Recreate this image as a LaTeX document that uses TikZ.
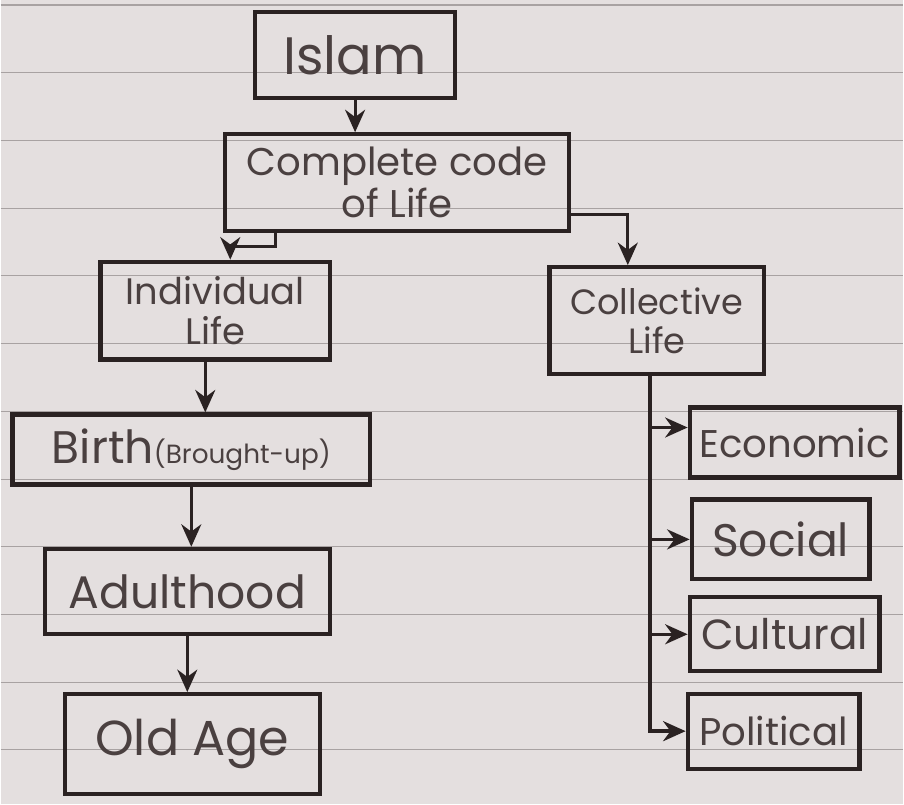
\documentclass[tikz,border=0pt]{standalone}
\usepackage{fontspec}
\setmainfont{Poppins}
\usetikzlibrary{arrows.meta}
\definecolor{paper}{HTML}{E4DFDF}
\definecolor{rule}{HTML}{A8A2A2}
\definecolor{ink}{HTML}{2A2222}
\definecolor{pencil}{HTML}{4A4040}
\tikzset{
	topicbox/.style={
		draw=ink,
		line width=2.4pt,
		inner sep=0pt,
		align=center,
		text=pencil
	},
	link/.style={
		draw=ink,
		line width=1.8pt,
		-{Stealth[length=4.5mm,width=4mm]}
	}
}

\begin{document}
\begin{tikzpicture}
			% paper with ruled lines
			\fill[paper] (0,0) rectangle (18.08,-16.1);
			\foreach \k in {0,...,11}
				\draw[rule, line width=0.6pt] (0,-0.1-1.356*\k) -- (18.08,-0.1-1.356*\k);
			\useasboundingbox (0,0) rectangle (18.08,-16.1);
			
			\node[topicbox, minimum width=4.0cm, minimum height=1.72cm, font=\fontsize{30}{34}\selectfont] (islam) at (7.1,-1.1) {Islam};
			\node[topicbox, minimum width=6.9cm, minimum height=1.94cm, font=\fontsize{22}{24}\selectfont] (code) at (7.94,-3.66) {Complete code\\of Life};
			\node[topicbox, minimum width=4.6cm, minimum height=1.96cm, font=\fontsize{21}{23}\selectfont] (indiv) at (4.3,-6.22) {Individual\\Life};
			\node[topicbox, minimum width=4.3cm, minimum height=2.14cm, font=\fontsize{20}{22}\selectfont] (coll) at (13.14,-6.42) {Collective\\Life};
			\node[topicbox, minimum width=7.16cm, minimum height=1.4cm, font=\fontsize{26}{28}\selectfont] (birth) at (3.82,-9.0) {Birth{\fontsize{15}{17}\selectfont(Brought-up)}};
			\node[topicbox, minimum width=5.7cm, minimum height=1.7cm, font=\fontsize{26}{28}\selectfont] (adult) at (3.74,-11.84) {Adulthood};
			\node[topicbox, minimum width=5.1cm, minimum height=2.0cm, font=\fontsize{28}{30}\selectfont] (old) at (3.84,-14.9) {Old Age};
			\node[topicbox, minimum width=4.2cm, minimum height=1.4cm, font=\fontsize{22}{24}\selectfont] (eco) at (15.9,-8.86) {Economic};
			\node[topicbox, minimum width=3.56cm, minimum height=1.6cm, font=\fontsize{26}{28}\selectfont] (soc) at (15.62,-10.8) {Social};
			\node[topicbox, minimum width=3.8cm, minimum height=1.48cm, font=\fontsize{24}{26}\selectfont] (cult) at (15.7,-12.7) {Cultural};
			\node[topicbox, minimum width=3.44cm, minimum height=1.5cm, font=\fontsize{22}{24}\selectfont] (pol) at (15.48,-14.64) {Political};
			
			% main chain
			\draw[link] (islam.south) -- (islam.south |- code.north);
			\draw[link] ([xshift=-2.44cm]code.south) -- ++(0,-0.26) -| ([xshift=0.3cm]indiv.north);
			\draw[link] ([yshift=-0.64cm]code.east) -| ([xshift=-0.58cm]coll.north);
			\draw[link] ([xshift=-2mm]indiv.south) -- ([xshift=-2mm]indiv.south |- birth.north);
			\draw[link] (birth.south) -- (birth.south |- adult.north);
			\draw[link] (adult.south) -- (adult.south |- old.north);
			
			% collective branches
			\coordinate (spine) at ([xshift=-0.14cm]coll.south);
			\draw[link, line width=2.4pt] (spine) |- (pol.west);
			\draw[link] ([yshift=3mm]spine |- eco.west) -- ([yshift=3mm]eco.west);
			\draw[link] (spine |- soc.west) -- (soc.west);
			\draw[link] (spine |- cult.west) -- (cult.west);
			
		\end{tikzpicture}
\end{document}
